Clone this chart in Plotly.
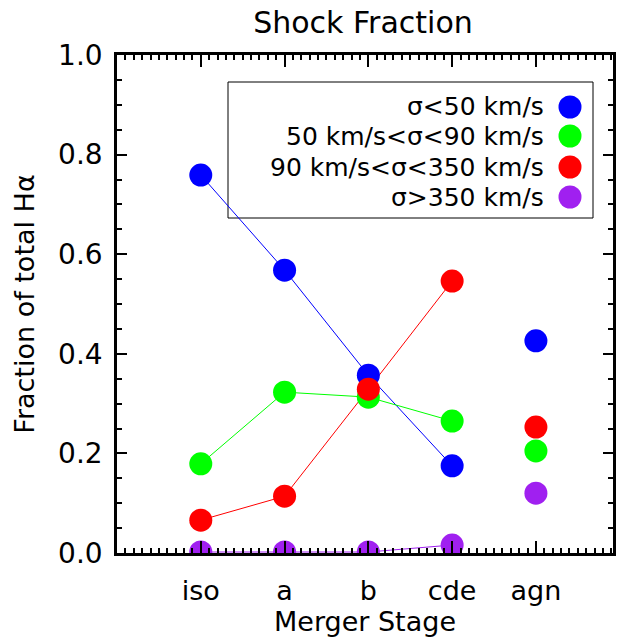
import plotly.graph_objects as go

stages = ["iso", "a", "b", "cde", "agn"]
labels = ["σ<50 km/s", "50 km/s<σ<90 km/s", "90 km/s<σ<350 km/s", "σ>350 km/s"]
colors = ["#0000ff", "#00ff00", "#ff0000", "#a020f0"]
low = [0.759, 0.568, 0.357, 0.175, 0.426]
mid = [0.179, 0.323, 0.313, 0.265, 0.205]
high = [0.066, 0.114, 0.329, 0.546, 0.253]
vhigh = [0.002, 0.002, 0.002, 0.016, 0.120]
series = [low, mid, high, vhigh]

FONT = "DejaVu Sans"
xpos = list(range(len(stages)))

W, H = 618, 644

fig = go.Figure()
for vals, col, name in zip(series, colors, labels):
    fig.add_trace(go.Scatter(x=xpos[:4], y=vals[:4], mode="lines",
                             line=dict(color=col, width=1), showlegend=False, hoverinfo="skip"))
for vals, col, name in zip(series, colors, labels):
    fig.add_trace(go.Scatter(x=xpos, y=vals, mode="markers", name=name, cliponaxis=True,
                             marker=dict(color=col, size=23, line=dict(width=0)), showlegend=False))

# plot area in screen pixels: x 117..613, y 55..553
L, R, T, B = 117, 613, 55, 553
PW, PH = R - L, B - T
def px(x):
    return (x - L) / PW
def py(y):
    return (B - y) / PH

# legend box drawn manually (markers on right of text, IDL style)
fig.add_shape(type="rect", xref="paper", yref="paper", line=dict(color="black", width=1),
              fillcolor="white", layer="below", x0=px(228), x1=px(593), y0=py(218), y1=py(82))
rows = [107, 136, 167, 197]
rx, ry = 11.5 / PW, 11.5 / PH
for lab, col, yy in zip(labels, colors, rows):
    fig.add_annotation(x=px(546), y=py(yy), xref="paper", yref="paper", text=lab, showarrow=False,
                       xanchor="right", yanchor="middle", font=dict(family=FONT, size=25, color="black"))
    fig.add_shape(type="circle", xref="paper", yref="paper", x0=px(570) - rx, x1=px(570) + rx,
                  y0=py(yy) - ry, y1=py(yy) + ry, fillcolor=col, line=dict(width=0))

axis_common = dict(showgrid=False, zeroline=False, showline=True, linecolor="black", linewidth=2.5,
                   mirror="allticks", ticks="inside", tickcolor="black", tickwidth=2, automargin=False)
fig.update_xaxes(range=[-1, 4.92], tickvals=xpos, ticktext=stages, ticklen=12,
                 tickfont=dict(family=FONT, size=27, color="black"),
                 minor=dict(dtick=0.1, tick0=0, ticks="inside", ticklen=5, tickcolor="black", tickwidth=1.5),
                 title=dict(text="Merger Stage", font=dict(family=FONT, size=27, color="black"), standoff=6),
                 ticklabelstandoff=12, **axis_common)
fig.update_yaxes(range=[0, 1.0], dtick=0.2, tickformat=".1f", ticklen=10,
                 tickfont=dict(family=FONT, size=28, color="black"),
                 minor=dict(dtick=0.05, ticks="inside", ticklen=5, tickcolor="black", tickwidth=1.5),
                 title=dict(text="Fraction of total Hα", font=dict(family=FONT, size=27, color="black"), standoff=16),
                 ticklabelstandoff=6, **axis_common)

fig.update_layout(width=W, height=H, plot_bgcolor="white", paper_bgcolor="white",
                  margin=dict(l=L, r=W - R, t=T, b=H - B, autoexpand=False),
                  title=dict(text="Shock Fraction", x=363 / W, xanchor="center", xref="container",
                             y=1 - 22 / H, yref="container", yanchor="middle", automargin=False,
                             font=dict(family=FONT, size=30, color="black")))

fig.write_html("out.html", config={"displayModeBar": False},
               post_script="document.body.style.margin='0';document.body.style.overflow='hidden';")
